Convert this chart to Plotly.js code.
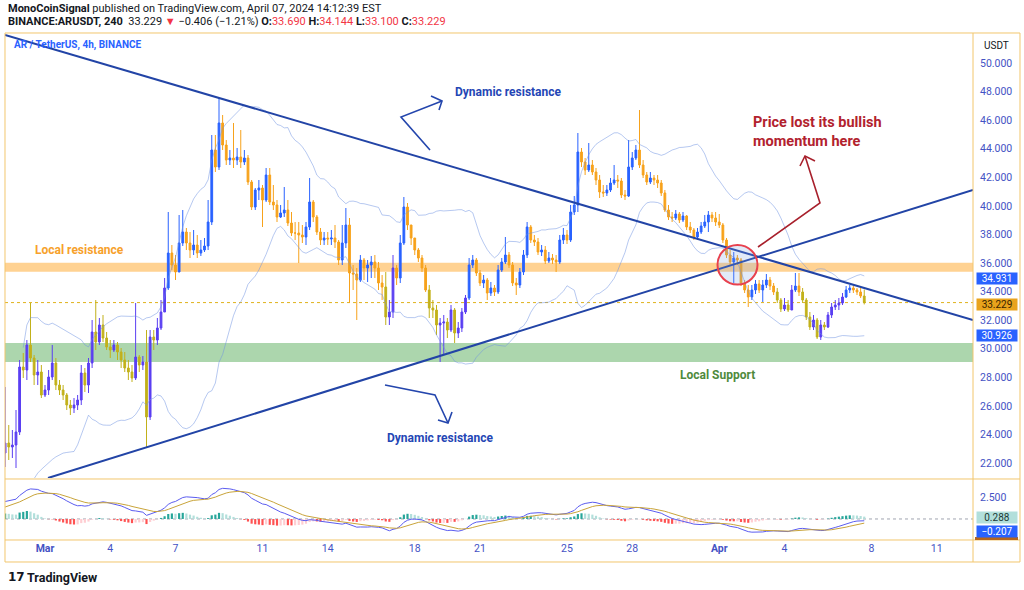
<!DOCTYPE html>
<html><head><meta charset="utf-8">
<script src="https://cdn.plot.ly/plotly-3.0.1.min.js"></script>
<style>html,body{margin:0;padding:0;background:#fff;}#chart{width:1024px;height:590px;}</style>
</head><body><div id="chart"></div>
<script>
// ---------- DATA ----------
const firstBarUTC = Date.UTC(2024, 1, 28, 4, 0); // first visible 4h candle
const barHours = 4;
const firstOpen = 22.70;
const closes = [23.40,23.12,23.26,24.17,28.72,28.51,30.26,29.35,28.16,28.37,
 26.76,27.11,28.02,29.00,27.46,27.11,26.76,26.06,25.85,26.06,
 26.41,28.30,27.46,29.00,31.17,30.47,31.66,30.75,30.12,29.91,
 30.26,29.77,29.21,28.65,28.37,27.95,29.42,28.86,29.07,25.22,
 30.82,30.61,31.45,32.57,34.25,36.70,35.86,35.37,37.40,38.17,
 37.40,36.91,37.26,36.70,36.91,37.19,38.87,43.91,42.72,45.80,
 44.26,43.21,43.35,43.21,43.42,43.07,43.35,41.67,39.92,41.11,
 41.25,40.41,42.16,40.27,40.06,39.22,39.50,39.71,38.80,38.10,
 38.10,37.96,37.82,38.52,40.27,39.22,38.17,37.61,37.75,37.68,
 37.75,37.47,36.21,37.40,38.66,35.30,35.23,34.81,36.21,35.65,
 35.86,36.07,35.65,34.60,34.32,32.22,32.57,35.65,34.95,37.40,
 39.92,38.66,37.75,36.91,36.35,35.65,34.11,32.85,32.71,31.66,
 31.80,31.87,31.31,32.71,31.10,31.45,32.57,33.55,35.86,36.21,
 35.30,34.60,34.81,33.90,34.25,33.97,35.51,36.07,36.56,35.86,
 34.60,34.46,35.37,36.56,38.52,37.61,37.47,36.77,36.91,36.14,
 36.35,36.21,36.07,37.61,37.96,37.61,39.57,40.06,43.77,43.07,
 42.51,42.86,42.37,41.81,40.97,40.90,41.11,41.60,41.81,41.74,
 40.76,40.69,42.72,43.35,43.91,42.86,42.16,41.67,41.95,41.81,
 41.60,40.90,39.71,39.22,39.15,39.43,39.01,39.29,38.52,38.31,
 37.82,38.17,38.59,38.87,39.36,39.15,38.87,38.66,37.61,36.56,
 36.07,36.35,36.21,34.60,34.11,33.62,34.11,34.53,34.11,34.46,
 34.81,34.39,33.97,33.41,32.78,33.06,32.71,34.11,34.39,33.97,
 33.41,32.22,31.52,32.01,30.82,31.66,31.52,32.36,32.92,33.06,
 33.20,33.62,34.11,34.25,34.11,33.97,33.69,33.229];
const highs = [27.32,24.66,24.31,25.71,29.21,29.70,30.61,33.20,29.56,29.21,
 28.86,27.46,28.51,30.26,29.35,27.81,27.46,26.90,26.41,26.55,
 26.76,28.86,28.65,29.35,32.01,33.41,32.15,32.36,31.17,30.61,
 30.61,30.47,30.05,29.77,29.21,28.86,33.20,29.56,29.49,31.31,
 31.31,31.31,32.15,33.41,34.95,39.57,37.26,36.56,39.36,39.71,
 38.45,38.17,38.31,37.96,37.61,37.75,40.41,44.96,44.96,47.55,
 46.36,44.61,43.91,45.80,44.05,45.31,43.91,43.56,41.81,41.25,
 41.81,41.46,42.65,42.65,41.46,40.41,40.06,41.32,40.41,39.57,
 38.87,38.87,38.66,38.87,41.95,40.41,39.36,38.45,38.17,38.17,
 38.31,38.66,37.61,38.66,39.85,39.15,35.86,35.65,36.56,36.35,
 36.21,36.49,36.56,36.07,35.16,35.37,33.41,36.56,35.86,37.96,
 40.62,40.20,38.66,37.75,37.05,36.56,35.86,34.46,33.41,33.06,
 32.15,32.36,32.15,33.06,32.85,31.87,32.85,33.76,36.35,36.56,
 36.35,35.51,35.16,34.95,34.67,34.46,35.86,36.35,37.82,36.77,
 36.07,34.95,35.65,36.91,38.87,38.66,37.96,37.75,37.26,37.19,
 36.77,36.63,36.56,37.96,38.45,38.31,40.06,40.69,45.10,44.05,
 43.35,44.40,43.21,42.65,42.16,41.46,41.46,41.95,42.86,42.16,
 41.95,41.11,44.61,43.77,44.26,46.71,43.21,42.37,42.37,42.16,
 42.16,41.81,41.11,40.06,39.57,39.71,39.57,39.57,39.36,38.87,
 38.45,38.45,38.87,39.36,39.64,39.57,39.57,39.43,38.80,37.75,
 36.91,36.77,36.56,36.35,34.81,34.46,34.46,34.81,34.81,34.81,
 35.23,35.02,34.60,34.25,33.55,33.55,33.41,34.46,35.30,35.30,
 34.25,33.55,32.57,32.36,32.15,32.01,31.87,32.57,33.20,33.41,
 33.55,33.90,34.39,34.46,34.39,34.25,34.25,34.144];
const lows = [21.72,22.21,22.35,21.65,23.96,27.95,27.81,29.07,27.46,27.46,
 26.55,26.62,26.76,27.81,27.11,26.76,26.41,25.71,25.36,25.50,
 25.71,26.06,26.97,26.90,28.65,29.91,30.26,30.47,29.91,29.35,
 29.77,29.21,28.65,28.37,27.81,27.67,27.81,28.37,28.51,23.12,
 25.01,29.91,30.26,31.31,32.57,34.11,35.51,34.81,35.37,37.19,
 36.91,36.35,36.56,36.35,36.49,36.77,36.91,38.66,42.37,42.51,
 43.91,42.86,42.86,42.65,42.86,42.65,42.86,41.46,39.71,39.71,
 40.41,38.52,40.27,40.06,39.71,38.87,39.15,39.22,38.59,37.89,
 37.61,36.00,37.40,37.26,38.31,38.87,37.96,37.26,37.26,37.26,
 37.26,37.05,35.86,35.86,37.05,33.20,34.11,32.01,34.67,34.81,
 34.67,34.95,34.95,34.11,33.41,31.66,31.66,32.15,34.46,34.60,
 37.26,38.31,37.26,36.56,36.07,35.37,33.97,32.15,32.15,30.96,
 29.07,29.56,30.75,31.17,30.40,30.75,31.17,32.43,33.41,35.65,
 35.09,34.39,34.25,33.41,33.69,33.69,33.83,35.37,35.93,35.65,
 34.39,33.76,34.25,35.16,36.35,37.40,37.19,36.56,36.49,35.93,
 36.00,35.93,35.37,35.93,37.33,37.33,37.47,39.36,39.57,42.72,
 42.16,42.37,42.16,41.46,40.55,40.62,40.69,40.97,41.46,41.25,
 40.55,40.41,40.62,42.51,43.21,42.65,41.95,41.46,41.53,41.46,
 41.25,40.69,39.57,39.01,38.87,39.01,38.80,38.87,38.31,38.10,
 37.61,37.61,38.03,38.45,38.17,38.87,38.59,38.45,37.40,36.35,
 35.79,34.60,35.86,34.39,33.90,32.92,33.41,33.83,33.90,33.27,
 34.25,34.11,33.76,33.20,32.57,32.64,32.57,33.06,33.97,33.69,
 33.20,32.01,31.31,31.31,30.68,30.61,31.31,31.45,32.15,32.71,
 32.71,33.06,33.55,33.90,33.90,33.76,33.55,33.10];

const lastPrice = 33.229;
const altColorBelow = 33.5;          // candles whose body reaches below this level are drawn purple / olive
const bbUpperLast = 34.931, bbLowerLast = 30.926;
const macdHistLast = 0.288, macdLineLast = -0.207;
// MACD(12,26,9) EMA state carried in from before the visible window (estimated)
const ema12Seed = 19.4, ema26Seed = 17.6, signalSeed = 1.2;

const priceTicks = [22,24,26,28,30,32,34,36,38,40,42,44,46,48,50];
const dateTicks = ['2024-03-01','2024-03-04','2024-03-07','2024-03-11','2024-03-14','2024-03-18','2024-03-21','2024-03-25','2024-03-28','2024-04-01','2024-04-04','2024-04-08','2024-04-11'];
const dateTickLabels = ['<b>Mar</b>','4','7','11','14','18','21','25','28','<b>Apr</b>','4','8','11'];
const xRange = ['2024-02-28 03:52','2024-04-12 16:00'];

// zones & drawings (time, price)
const resistanceZone = [35.39, 36.02];
const supportZone = [29.07, 30.40];
const descLine = {t:['2024-02-28 03:52','2024-04-12 16:00'], p:[51.96, 32.01]};
const ascLine  = {t:['2024-03-01 03:19','2024-04-12 16:00'], p:[20.95, 41.11]};

// ---------- build ----------
const fmt = ms => new Date(ms).toISOString().slice(0,16).replace('T',' ');
const times = closes.map((_, i) => fmt(firstBarUTC + i*barHours*3600e3));
const opens = closes.map((_, i) => i === 0 ? firstOpen : closes[i-1]);

function split(cond){
  const o={x:[],open:[],high:[],low:[],close:[]};
  closes.forEach((c,i)=>{ if(cond(i)){o.x.push(times[i]);o.open.push(opens[i]);o.high.push(highs[i]);o.low.push(lows[i]);o.close.push(c);} });
  return o;
}
const isAlt = i => Math.min(opens[i], closes[i]) < altColorBelow;
const normal = split(i=>!isAlt(i)), alt = split(isAlt);

// Bollinger bands (20, 2)
const bbU=[], bbL=[];
closes.forEach((c,i)=>{
  const w = closes.slice(Math.max(0,i-19), i+1);
  if (w.length < 6){ bbU.push(null); bbL.push(null); return; }
  const m = w.reduce((a,b)=>a+b,0)/w.length;
  const sd = Math.sqrt(w.reduce((a,b)=>a+(b-m)*(b-m),0)/w.length);
  bbU.push(m+2*sd); bbL.push(m-2*sd);
});
// MACD
function ema(src, len, seed){ const a=2/(len+1); let e=seed; return src.map(v => (e = e + a*(v-e))); }
const e12 = ema(closes,12,ema12Seed), e26 = ema(closes,26,ema26Seed);
const macd = e12.map((v,i)=>v-e26[i]);
const signal = ema(macd,9,signalSeed);
const hist = macd.map((v,i)=>v-signal[i]);
const histColors = hist.map((h,i)=>{
  const prev = i>0 ? hist[i-1] : h;
  if (h >= 0) return h >= prev ? '#26a69a' : '#b2dfdb';
  return h < prev ? '#ff5252' : '#ffcdd2';
});

const FONT = 'Roboto, "Liberation Sans", Arial, sans-serif';
const AX = '#4452c4';
const W=1024, H=590;
const L = px => px/W, T = py => 1 - py/H;

const traces = [
  {type:'scatter', mode:'lines', x:times, y:bbU, line:{color:'rgba(110,145,225,0.5)', width:1}, hoverinfo:'skip', xaxis:'x', yaxis:'y'},
  {type:'scatter', mode:'lines', x:times, y:bbL, line:{color:'rgba(110,145,225,0.5)', width:1}, hoverinfo:'skip', xaxis:'x', yaxis:'y'},
  Object.assign({type:'candlestick', xaxis:'x', yaxis:'y', whiskerwidth:0, hoverinfo:'skip',
    increasing:{line:{color:'#2962ff',width:1}, fillcolor:'#2962ff'},
    decreasing:{line:{color:'#f7a21b',width:1}, fillcolor:'#f7a21b'}}, normal),
  Object.assign({type:'candlestick', xaxis:'x', yaxis:'y', whiskerwidth:0, hoverinfo:'skip',
    increasing:{line:{color:'#5a3ff2',width:1}, fillcolor:'#5a3ff2'},
    decreasing:{line:{color:'#c2b11a',width:1}, fillcolor:'#c2b11a'}}, alt),
  {type:'bar', x:times, y:hist, marker:{color:histColors}, width:barHours*3600e3*0.6, xaxis:'x2', yaxis:'y2', hoverinfo:'skip'},
  {type:'scatter', mode:'lines', x:times, y:macd, line:{color:'#5b5cf0', width:1}, xaxis:'x2', yaxis:'y2', hoverinfo:'skip'},
  {type:'scatter', mode:'lines', x:times, y:signal, line:{color:'#c9a43a', width:1}, xaxis:'x2', yaxis:'y2', hoverinfo:'skip'}
];

function path(pts){ return pts.map((p,i)=>(i?'L':'M')+L(p[0]).toFixed(5)+','+T(p[1]).toFixed(5)).join(' '); }
const frame = '#f2c66d';
const shapes = [
  {type:'rect', xref:'x domain', yref:'y', x0:0, x1:1, y0:resistanceZone[0], y1:resistanceZone[1], fillcolor:'#ffd292', line:{width:0}, layer:'below'},
  {type:'rect', xref:'x domain', yref:'y', x0:0, x1:1, y0:supportZone[0], y1:supportZone[1], fillcolor:'#acd6ad', line:{width:0}, layer:'below'},
  {type:'line', xref:'x domain', yref:'y', x0:0, x1:1, y0:lastPrice, y1:lastPrice, line:{color:'#e0b21c', width:1, dash:'dot'}, layer:'below'},
  {type:'line', xref:'x domain', yref:'y2', x0:0, x1:1, y0:0, y1:0, line:{color:'#a0a4b0', width:1, dash:'dot'}, layer:'below'},
  {type:'line', xref:'x', yref:'y', x0:descLine.t[0], x1:descLine.t[1], y0:descLine.p[0], y1:descLine.p[1], line:{color:'#2244a6', width:2}},
  {type:'line', xref:'x', yref:'y', x0:ascLine.t[0], x1:ascLine.t[1], y0:ascLine.p[0], y1:ascLine.p[1], line:{color:'#2244a6', width:2}},
  {type:'circle', xref:'paper', yref:'paper', x0:L(717.5), x1:L(757.5), y0:T(284.5), y1:T(245), fillcolor:'rgba(120,160,225,0.22)', line:{color:'#e8414e', width:2}},
  {type:'path', xref:'paper', yref:'paper', path:path([[430,150],[401,117],[442,101]]), line:{color:'#2446ad', width:1.6}},
  {type:'path', xref:'paper', yref:'paper', path:path([[431,96],[442,101],[439,110]]), line:{color:'#2446ad', width:1.6}},
  {type:'path', xref:'paper', yref:'paper', path:path([[385,385],[435,395],[448,423]]), line:{color:'#2446ad', width:1.6}},
  {type:'path', xref:'paper', yref:'paper', path:path([[438,420],[448,423],[452,412]]), line:{color:'#2446ad', width:1.6}},
  {type:'path', xref:'paper', yref:'paper', path:path([[758,247],[820,203],[805,156]]), line:{color:'#a8202c', width:1.6}},
  {type:'path', xref:'paper', yref:'paper', path:path([[800,166],[805,156],[815,161]]), line:{color:'#a8202c', width:1.6}},
  // frame
  {type:'path', xref:'paper', yref:'paper', path:path([[5,33],[1020,33],[1020,562],[5,562],[5,33]]), line:{color:frame, width:1}},
  {type:'path', xref:'paper', yref:'paper', path:path([[973,33],[973,562]]), line:{color:frame, width:1}},
  {type:'path', xref:'paper', yref:'paper', path:path([[5,479],[1020,479]]), line:{color:frame, width:1}},
  {type:'path', xref:'paper', yref:'paper', path:path([[5,540],[1020,540]]), line:{color:frame, width:1}},
  {type:'rect', xref:'paper', yref:'paper', x0:L(975), x1:L(1018), y0:T(540), y1:T(537), fillcolor:'#b5651d', line:{width:0}}
];

const RED = '#f23645';
function txt(x, y, text, opt){ return Object.assign({xref:'paper', yref:'paper', x:L(x), y:T(y), text, showarrow:false, xanchor:'left', yanchor:'middle', font:{family:FONT, size:11, color:'#131722'}}, opt||{}); }
const tagOpt = (bg, fg) => ({xanchor:'center', yanchor:'middle', bgcolor:bg, width:40, height:11, borderpad:0, font:{family:FONT,size:10,color:fg}});
const annotations = [
  txt(6, 9, '<b>MonoCoinSignal</b> published on TradingView.com, April 07, 2024 14:12:39 EST', {font:{family:FONT,size:11,color:'#131722'}}),
  txt(6, 22, '<b>BINANCE:ARUSDT, 240</b>  33.229 <span style="color:'+RED+'">▼</span> −0.406 (−1.21%) <b>O:</b><span style="color:'+RED+'">33.690</span> <b>H:</b><span style="color:'+RED+'">34.144</span> <b>L:</b><span style="color:'+RED+'">33.100</span> <b>C:</b><span style="color:'+RED+'">33.229</span>', {font:{family:FONT,size:11,color:'#131722'}}),
  txt(12, 45, '<b>AR / TetherUS, 4h, BINANCE</b>', {font:{family:FONT,size:10,color:'#2962ff'}}),
  txt(996, 46, 'USDT', {xanchor:'center', font:{family:FONT,size:10,color:'#131722'}}),
  txt(453, 92, '<b>Dynamic resistance</b>', {font:{family:FONT,size:12,color:'#2446b5'}}),
  txt(385, 438, '<b>Dynamic resistance</b>', {font:{family:FONT,size:12,color:'#2446b5'}}),
  txt(33, 250, '<b>Local resistance</b>', {font:{family:FONT,size:12,color:'#f7a12b'}}),
  txt(678, 375, '<b>Local Support</b>', {font:{family:FONT,size:12,color:'#4f8a3c'}}),
  txt(751, 131.5, '<b>Price lost its bullish<br>momentum here</b>', {align:'left', font:{family:FONT,size:14.5,color:'#b2222e'}}),
  // price scale tags
  Object.assign({xref:'paper', yref:'y', x:L(996.5), y:bbUpperLast, text:bbUpperLast.toFixed(3), showarrow:false}, tagOpt('#2962ff','#ffffff')),
  txt(996.5, 304, lastPrice.toFixed(3), tagOpt('#e9a31c','#3a2400')),
  Object.assign({xref:'paper', yref:'y', x:L(996.5), y:bbLowerLast, text:bbLowerLast.toFixed(3), showarrow:false}, tagOpt('#2962ff','#ffffff')),
  txt(996.5, 517, macdHistLast.toFixed(3), tagOpt('#b2dfdb','#1b3a36')),
  txt(996.5, 531, '−' + Math.abs(macdLineLast).toFixed(3), tagOpt('#2962ff','#ffffff')),
  txt(6, 577, '<b>17</b>', {font:{family:'"DejaVu Sans", sans-serif',size:12,color:'#131722'}}),
  txt(25, 577, '<b>TradingView</b>', {font:{family:FONT,size:12.5,color:'#131722'}})
];

const layout = {
  width:W, height:H, margin:{l:0,r:0,t:0,b:0}, paper_bgcolor:'#ffffff', plot_bgcolor:'#ffffff', showlegend:false,
  font:{family:FONT},
  xaxis:{domain:[L(5),L(973)], range:xRange, type:'date', showticklabels:false, showgrid:false, zeroline:false, showline:false, ticks:'', rangeslider:{visible:false}, anchor:'y', fixedrange:true},
  yaxis:{domain:[T(478),T(33)], range:[20.95,52.1], side:'right', anchor:'x', tickvals:priceTicks, ticktext:priceTicks.map(v=>v.toFixed(3)), showgrid:false, zeroline:false, showline:false, ticks:'', ticklabelstandoff:6, tickfont:{family:FONT,size:10.5,color:AX}, fixedrange:true},
  xaxis2:{domain:[L(5),L(973)], range:xRange, type:'date', anchor:'y2', tickvals:dateTicks, ticktext:dateTickLabels, showgrid:false, zeroline:false, showline:false, ticks:'', rangeslider:{visible:false}, tickfont:{family:FONT,size:10.5,color:AX}, fixedrange:true},
  yaxis2:{domain:[T(540),T(480)], range:[-2.39,4.43], side:'right', anchor:'x2', tickvals:[2.5], ticktext:['2.500'], showgrid:false, zeroline:false, showline:false, ticks:'', ticklabelstandoff:6, tickfont:{family:FONT,size:10.5,color:AX}, fixedrange:true},
  shapes, annotations, bargap:0.3
};
Plotly.newPlot('chart', traces, layout, {staticPlot:true, displayModeBar:false});
</script></body></html>
